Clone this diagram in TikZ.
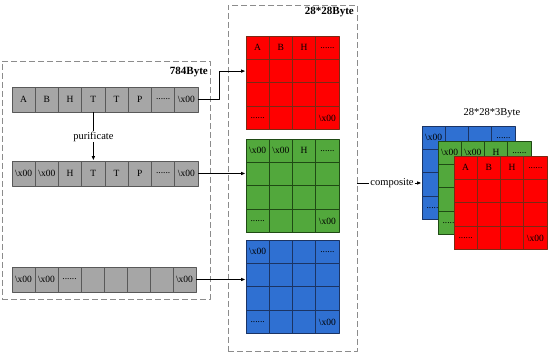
\documentclass[tikz,border=0pt]{standalone}
\usepackage{fontspec}
\setmainfont{Liberation Serif}
\usepackage{tikz}
\usetikzlibrary{arrows.meta}
\definecolor{bxGray}{HTML}{A6A6A6}
\definecolor{bxGrayEdge}{HTML}{595959}
\definecolor{bxFrame}{HTML}{8C8C8C}
\definecolor{bxRed}{HTML}{FF0000}
\definecolor{bxRedEdge}{HTML}{7A2A14}
\definecolor{bxGreen}{HTML}{52A83C}
\definecolor{bxGreenEdge}{HTML}{1F4A14}
\definecolor{bxBlue}{HTML}{2F70D2}
\definecolor{bxBlueEdge}{HTML}{1B3464}
\newcommand{\xnull}{\textbackslash x00}
\newcommand{\bxdots}{......}
% 4x4 grid of cells: name, left, top, style
\newcommand{\bxgrid}[4]{%
  \foreach \gr in {1,...,4}
    \foreach \gc in {1,...,4}
      \node[#4] (#1-\gr-\gc) at ({#2+(\gc-0.5)*23.25},{#3+(\gr-0.5)*23.4}) {};
}
\tikzset{
  bx diagram/.style={x=1pt, y=-1pt, font=\fontsize{10.5}{12}\selectfont,
    line join=round},
  bx frame/.style={draw=bxFrame, dash pattern=on 6pt off 3pt, line width=0.9pt,
    fill=white, inner sep=0pt},
  bx byte/.style={draw=bxGrayEdge, fill=bxGray, line width=0.8pt,
    minimum width=23.25pt, minimum height=25pt, inner sep=0pt,
    font=\fontsize{9.5}{10}\selectfont},
  bx cell/.style={line width=0.8pt, minimum width=23.25pt, minimum height=23.4pt,
    inner sep=0pt},
  bx red/.style={bx cell, fill=bxRed, draw=bxRedEdge},
  bx green/.style={bx cell, fill=bxGreen, draw=bxGreenEdge},
  bx blue/.style={bx cell, fill=bxBlue, draw=bxBlueEdge},
  bx text/.style={inner sep=0pt, font=\fontsize{9.5}{10}\selectfont},
  bx title/.style={font=\fontsize{11}{12}\selectfont\bfseries, inner sep=0pt},
  bx label/.style={inner sep=1pt},
  bx line/.style={draw=black, line width=0.9pt},
  bx arrow/.style={bx line, -{Latex[length=4.5pt,width=3.6pt]}}
}

\begin{document}
\begin{tikzpicture}[bx diagram]
\useasboundingbox (0,0) rectangle (550,355);

% frames
\node[bx frame, minimum width=208pt, minimum height=238pt] (srcbox) at (106,180) {};
\node[bx title, anchor=east] at (208,72) {784Byte};
\node[bx frame, minimum width=129pt, minimum height=346pt] (mapbox) at (292.5,178) {};
\node[bx title, anchor=east] at (354,12) {28*28Byte};

% byte rows
\foreach \t [count=\i] in {A,B,H,T,T,P,\bxdots,\xnull}
  \node[bx byte] (top-\i) at ({12+(\i-0.5)*23.25},99.5) {\t};
\foreach \t [count=\i] in {\xnull,\xnull,H,T,T,P,\bxdots,\xnull}
  \node[bx byte] (mid-\i) at ({12+(\i-0.5)*23.25},173.5) {\t};
\foreach \t [count=\i] in {\xnull,\xnull,\bxdots,,,,,\xnull}
  \node[bx byte, minimum width=23pt] (low-\i) at ({12+(\i-0.5)*23},279.5) {\t};

\draw[bx arrow] (top-4.south) -- node[bx label, fill=white] {purificate} (mid-4.north);

% 28x28 maps
\bxgrid{red}{246}{36}{bx red}
\foreach \p/\t in {1-1/A,1-2/B,1-3/H,1-4/\bxdots,4-1/\bxdots,4-4/\xnull}
  \node[bx text] at (red-\p) {\t};
\bxgrid{green}{246}{139}{bx green}
\foreach \p/\t in {1-1/\xnull,1-2/\xnull,1-3/H,1-4/\bxdots,4-1/\bxdots,4-4/\xnull}
  \node[bx text] at (green-\p) {\t};
\bxgrid{blue}{246}{240}{bx blue}
\foreach \p/\t in {1-1/\xnull,1-4/\bxdots,4-1/\bxdots,4-4/\xnull}
  \node[bx text] at (blue-\p) {\t};

\draw[bx arrow] (top-8.east) -- ++(21,0) |- (red-2-1.west);
\draw[bx arrow] (mid-8.east) -- (mid-8.east -| green-2-1.west);
\draw[bx arrow] (low-8.east) -- (low-8.east -| blue-2-1.west);

% stacked 28x28x3
\node at (492,113) {28*28*3Byte};
\bxgrid{sblue}{422}{126}{bx blue}
\foreach \p/\t in {1-1/\xnull,1-4/\bxdots,4-1/\bxdots}
  \node[bx text] at (sblue-\p) {\t};
\bxgrid{sgreen}{438}{141}{bx green}
\foreach \p/\t in {1-1/\xnull,1-2/\xnull,1-3/H,1-4/\bxdots,4-1/\bxdots}
  \node[bx text] at (sgreen-\p) {\t};
\bxgrid{sred}{454}{156}{bx red}
\foreach \p/\t in {1-1/A,1-2/B,1-3/H,1-4/\bxdots,4-1/\bxdots,4-4/\xnull}
  \node[bx text] at (sred-\p) {\t};

\coordinate (compose) at (357,183);
\node[bx label] (composite) at (392,183) {composite};
\draw[bx line] (compose) -- (composite.west);
\draw[bx arrow] (composite.east) -- (composite.east -| sblue-3-1.west);
\end{tikzpicture}
\end{document}
